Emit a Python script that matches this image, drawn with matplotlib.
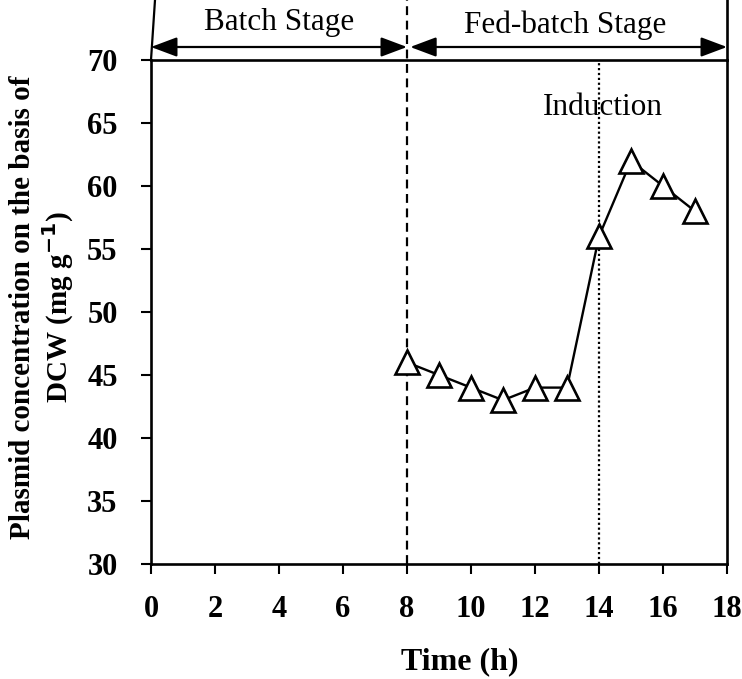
import matplotlib.pyplot as plt
from matplotlib.lines import Line2D

# data
time_h = [8, 9, 10, 11, 12, 13, 14, 15, 16, 17]
plasmid = [46, 45, 44, 43, 44, 44, 56, 62, 60, 58]
x_ticks = list(range(0, 19, 2))
y_ticks = list(range(30, 71, 5))
batch_end = 8
induction_time = 14

plt.rcParams['font.family'] = ['Liberation Serif', 'DejaVu Serif']

fig = plt.figure(figsize=(7.42, 6.79), dpi=100)
ax = fig.add_axes([151 / 742, 1 - 564 / 679, 576 / 742, 504 / 679])

ax.plot(time_h, plasmid, color='black', linewidth=1.7, marker='^', markersize=17,
        markerfacecolor='white', markeredgecolor='black', markeredgewidth=1.9, zorder=5)

ax.set_xlim(0, 18)
ax.set_ylim(30, 70)
ax.set_xticks(x_ticks)
ax.set_yticks(y_ticks)
ax.tick_params(direction='out', length=7, width=1.5, labelsize=22)
ax.tick_params(axis='x', pad=15)
ax.tick_params(axis='y', pad=17)
for lab in ax.get_xticklabels() + ax.get_yticklabels():
    lab.set_fontweight('bold')
for sp in ax.spines.values():
    sp.set_linewidth(1.9)

# stage boundaries
ax.axvline(batch_end, ymin=0, ymax=1.12, color='black', linestyle=(0, (4, 2.5)),
           linewidth=1.6, clip_on=False)
ax.axvline(induction_time, color='black', linestyle=(0, (1, 1.2)), linewidth=1.6)
ax.axvline(18, ymin=1, ymax=1.12, color='black', linewidth=1.9, clip_on=False)

# slanted left extension above the axes (as in the original figure)
fig.add_artist(Line2D([151 / 742, 155 / 742], [1 - 60 / 679, 1.0],
                      color='black', linewidth=1.6))

# stage arrows
arrow_y = 70 + 13 / 12.6
arrow_style = '<|-|>,head_length=0.8,head_width=0.3'
ax.annotate('', xy=(0, arrow_y), xytext=(batch_end, arrow_y), annotation_clip=False,
            arrowprops=dict(arrowstyle=arrow_style, color='black', lw=1.6,
                            mutation_scale=20, shrinkA=0, shrinkB=0))
ax.annotate('', xy=(batch_end + 0.1, arrow_y), xytext=(18, arrow_y), annotation_clip=False,
            arrowprops=dict(arrowstyle=arrow_style, color='black', lw=1.6,
                            mutation_scale=20, shrinkA=0, shrinkB=0))
ax.text(4, 72.38, 'Batch Stage', ha='center', va='baseline', fontsize=22.5)
ax.text(12.94, 72.14, 'Fed-batch Stage', ha='center', va='baseline', fontsize=22.5)
ax.text(14.12, 65.63, 'Induction', ha='center', va='baseline', fontsize=22.5)

ax.set_xlabel('Time (h)', fontsize=23, fontweight='bold')
ax.xaxis.set_label_coords(0.536, -0.165)
ax.set_ylabel('Plasmid concentration on the basis of\nDCW (mg g$^{\\mathbf{-1}}$)',
              fontsize=21, fontweight='bold', linespacing=1.15)
ax.yaxis.set_label_coords(-0.13, 0.51)

fig.savefig('out.png', dpi=100)
